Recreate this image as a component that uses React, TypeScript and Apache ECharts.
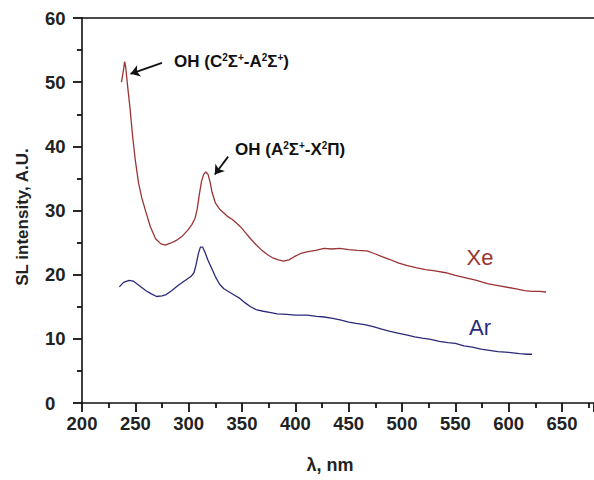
import React, { useEffect, useRef } from "react";
import * as echarts from "echarts";

const xeSeries: [number, number][] = [
  [237, 50.0], [238.5, 51.5], [240, 53.2], [241, 52.3], [243, 49], [245, 46], [247.5, 41.5], [250, 37.8],
  [253, 34.3], [256, 32.0], [260, 29.7], [264, 27.5], [269, 25.6], [274, 24.8], [278, 24.6], [283, 24.9],
  [288, 25.3], [294, 26.0], [299, 26.9], [303, 27.8], [306, 28.8], [308, 30.2], [310, 32.5], [312, 34.5],
  [314, 35.6], [316, 36.0], [318, 35.7], [320, 34.5], [322, 32.8], [325, 31.2], [329, 30.2], [333, 29.6],
  [337, 29.0], [341, 28.6], [345, 28.0], [349, 27.4], [353, 26.6], [358, 25.6], [363, 24.7], [368, 23.9],
  [374, 23.1], [379, 22.6], [384, 22.3], [389, 22.1], [394, 22.3], [399, 22.8], [405, 23.3], [412, 23.6],
  [419, 23.8], [427, 24.1], [434, 24.0], [442, 24.1], [450, 23.9], [458, 23.8], [467, 23.7], [474, 23.3],
  [480, 22.9], [488, 22.4], [497, 21.8], [505, 21.4], [513, 21.1], [522, 20.8], [531, 20.6], [541, 20.3],
  [550, 19.9], [560, 19.5], [570, 19.1], [580, 18.6], [590, 18.3], [600, 18.0], [607, 17.8], [615, 17.5],
  [622, 17.4], [629, 17.4], [635, 17.3],
];

const arSeries: [number, number][] = [
  [235, 18.1], [239, 18.8], [244, 19.1], [248, 19.0], [252, 18.5], [256, 18.0], [260, 17.5], [265, 17.0],
  [270, 16.6], [275, 16.7], [279, 16.9], [284, 17.5], [290, 18.3], [296, 19.0], [302, 19.7], [305, 20.3],
  [307, 21.6], [309, 23.2], [311, 24.3], [313, 24.3], [315, 23.6], [318, 22.3], [321, 21.2], [325, 19.7],
  [329, 18.5], [333, 17.8], [338, 17.3], [343, 16.8], [348, 16.3], [353, 15.6], [358, 15.0], [364, 14.5],
  [370, 14.3], [377, 14.1], [383, 13.9], [392, 13.8], [400, 13.7], [411, 13.7], [420, 13.5], [427, 13.4],
  [435, 13.2], [443, 12.9], [450, 12.6], [457, 12.4], [465, 12.2], [473, 11.9], [481, 11.5], [488, 11.2],
  [496, 10.9], [504, 10.6], [512, 10.3], [519, 10.1], [527, 9.9], [535, 9.6], [543, 9.4], [550, 9.3],
  [558, 8.9], [566, 8.7], [574, 8.4], [582, 8.2], [590, 8.0], [600, 7.9], [610, 7.7], [618, 7.6], [622, 7.6],
];

// annotation arrows: [fromX, fromY, toX, toY] in data units
const arrowC: [number, number, number, number] = [275, 53, 245.5, 51.3];
const arrowA: [number, number, number, number] = [337, 38.4, 324.5, 35.6];

const seriesNames = ["Xe", "Ar"];
const xLabel = "λ, nm";
const yLabel = "SL intensity, A.U.";

const FONT = "'Liberation Sans', Arial, sans-serif";
const XE_COLOR = "#9a3434";
const AR_COLOR = "#2a2a78";

export default function App() {
  const ref = useRef<HTMLDivElement>(null);
  useEffect(() => {
    if (!ref.current) return;
    const chart = echarts.init(ref.current, null, { renderer: "svg" });
    const sup = { fontSize: 10, fontWeight: "bold", fontFamily: FONT, fill: "#111", verticalAlign: "top", lineHeight: 19 } as any;
    const base = { fontSize: 17, fontWeight: "bold", fontFamily: FONT, fill: "#111", lineHeight: 19 } as any;
    const tickStyle = { color: "#111", width: 1.8 };
    chart.setOption({
      animation: false,
      backgroundColor: "#fff",
      grid: { left: 82, top: 18, width: 518.4, height: 385, containLabel: false },
      xAxis: [
        {
          type: "value",
          min: 200,
          max: 680,
          interval: 50,
          axisLine: { show: true, onZero: false, lineStyle: { color: "#111", width: 1.6 } },
          splitLine: { show: false },
          axisTick: { show: true, length: 9, lineStyle: tickStyle },
          minorTick: { show: true, splitNumber: 2, length: 5, lineStyle: tickStyle },
          axisLabel: {
            showMaxLabel: false,
            margin: 11,
            fontSize: 18.5,
            fontWeight: "bold",
            fontFamily: FONT,
            color: "#222",
          },
        },
        {
          type: "value",
          position: "top",
          min: 200,
          max: 680,
          axisLine: { show: true, onZero: false, lineStyle: { color: "#111", width: 1.6 } },
          axisTick: { show: false },
          axisLabel: { show: false },
          splitLine: { show: false },
        },
      ],
      yAxis: {
        type: "value",
        min: 0,
        max: 60,
        interval: 10,
        axisLine: { show: true, onZero: false, lineStyle: { color: "#111", width: 1.6 } },
        splitLine: { show: false },
        axisTick: { show: true, length: 9, lineStyle: tickStyle },
        minorTick: { show: true, splitNumber: 2, length: 5, lineStyle: tickStyle },
        axisLabel: {
          align: "left",
          margin: 37,
          fontSize: 18.5,
          fontWeight: "bold",
          fontFamily: FONT,
          color: "#222",
        },
      },
      series: [
        {
          name: seriesNames[0],
          type: "line",
          data: xeSeries,
          showSymbol: false,
          lineStyle: { color: XE_COLOR, width: 1.3 },
          itemStyle: { color: XE_COLOR },
          markLine: {
            silent: true,
            symbol: ["none", "arrow"],
            symbolSize: 9,
            label: { show: false },
            lineStyle: { color: "#111", width: 1.8, type: "solid" },
            itemStyle: { color: "#111" },
            data: [
              [{ coord: [arrowC[0], arrowC[1]] }, { coord: [arrowC[2], arrowC[3]] }],
              [{ coord: [arrowA[0], arrowA[1]] }, { coord: [arrowA[2], arrowA[3]] }],
            ],
          },
        },
        {
          name: seriesNames[1],
          type: "line",
          data: arSeries,
          showSymbol: false,
          lineStyle: { color: AR_COLOR, width: 1.3 },
          itemStyle: { color: AR_COLOR },
        },
      ],
      graphic: [
        {
          type: "text",
          left: 174,
          top: 52,
          style: {
            text: "{b|OH (C}{s|2}{b|Σ}{s|+}{b|-A}{s|2}{b|Σ}{s|+}{b|)}",
            rich: { b: base, s: sup },
          },
        },
        {
          type: "text",
          left: 235,
          top: 140,
          style: {
            text: "{b|OH (A}{s|2}{b|Σ}{s|+}{b|-X}{s|2}{b|Π)}",
            rich: { b: base, s: sup },
          },
        },
        {
          type: "text",
          x: 480,
          y: 257,
          style: { text: seriesNames[0], fontSize: 22, fontFamily: FONT, fill: XE_COLOR, align: "center", verticalAlign: "middle" },
        },
        {
          type: "text",
          x: 480,
          y: 327,
          style: { text: seriesNames[1], fontSize: 22, fontFamily: FONT, fill: AR_COLOR, align: "center", verticalAlign: "middle" },
        },
        {
          type: "text",
          x: 22,
          y: 217,
          rotation: Math.PI / 2,
          style: { text: yLabel, fontSize: 17, fontWeight: "bold", fontFamily: FONT, fill: "#222", align: "center", verticalAlign: "middle" },
        },
        {
          type: "text",
          x: 330,
          y: 465,
          style: { text: xLabel, fontSize: 18, fontWeight: "bold", fontFamily: FONT, fill: "#222", align: "center", verticalAlign: "middle" },
        },
      ],
    });
    return () => chart.dispose();
  }, []);
  return <div ref={ref} style={{ position: "absolute", left: 0, top: 0, width: 594, height: 480 }} />;
}
